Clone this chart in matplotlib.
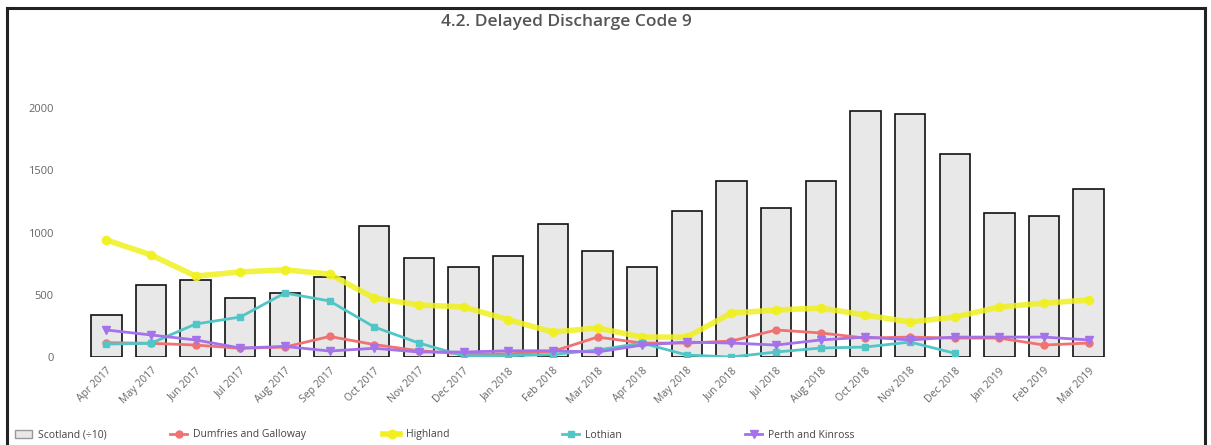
"""
Delayed Discharge Code 9 - barras mensuales con líneas por área
"""

import matplotlib.pyplot as plt
import matplotlib.lines as mlines
import matplotlib.patches as mpatches
import numpy as np

meses = ['Apr 2017', 'May 2017', 'Jun 2017', 'Jul 2017', 'Aug 2017', 'Sep 2017',
         'Oct 2017', 'Nov 2017', 'Dec 2017', 'Jan 2018', 'Feb 2018', 'Mar 2018',
         'Apr 2018', 'May 2018', 'Jun 2018', 'Jul 2018', 'Aug 2018', 'Oct 2018',
         'Nov 2018', 'Dec 2018', 'Jan 2019', 'Feb 2019', 'Mar 2019']

scotland = [340, 578, 615, 474, 514, 642, 1050, 795, 723, 811, 1070, 851,
            723, 1170, 1410, 1196, 1410, 1975, 1951, 1630, 1156, 1132, 1349]
dumfries = [115, 110, 96, 70, 80, 165, 100, 50, 25, 25, 45, 160,
            112, 112, 128, 217, 193, 152, 160, 152, 152, 96, 112]
highland = [940, 820, 650, 683, 700, 666, 474, 418, 402, 300, 200, 233,
            160, 160, 353, 377, 393, 337, 281, 321, 401, 433, 458]
lothian = [104, 110, 265, 321, 514, 450, 241, 112, 10, 10, 20, 56,
           112, 16, 0, 40, 72, 80, 120, 30, np.nan, np.nan, np.nan]
perth = [217, 177, 137, 72, 85, 48, 70, 40, 40, 50, 50, 40,
         96, 120, 112, 96, 137, 160, 137, 160, 160, 160, 137]

etiquetas = ['Scotland (÷10)', 'Dumfries and Galloway', 'Highland', 'Lothian',
             'Perth and Kinross']

plt.rcParams['font.family'] = ['Open Sans', 'DejaVu Sans']

W, H = 1211, 445
fig = plt.figure(figsize=(W / 100, H / 100), dpi=100)

# marco exterior
for xs, ys in [((7 / W, 7 / W), (0, 1 - 8 / H)),
               ((7 / W, 1205 / W), (1 - 8 / H, 1 - 8 / H)),
               ((1205 / W, 1205 / W), (0, 1 - 8 / H))]:
    fig.add_artist(mlines.Line2D(xs, ys, color='#222222', lw=2.2,
                                 transform=fig.transFigure))

ax = fig.add_axes([84 / W, (H - 357) / H, (1111 - 84) / W, (357 - 108) / H])
x = np.arange(len(meses))

ax.bar(x, scotland, width=0.68, color='#e8e8e8', edgecolor='#111111',
       linewidth=1.2, zorder=1)

ax.plot(x, highland, color='#f0f020', lw=4, marker='o', markersize=6,
        alpha=0.85, zorder=3)
ax.plot(x, dumfries, color='#f07272', lw=2, marker='o', markersize=5, zorder=4)
ax.plot(x, lothian, color='#52c6c6', lw=2, marker='s', markersize=5, zorder=4)
ax.plot(x, perth, color='#a472ea', lw=2, marker='v', markersize=6, zorder=5)

ax.set_xlim(-0.5, len(meses) - 0.5)
ax.set_ylim(0, 2000)
ax.set_yticks([0, 500, 1000, 1500, 2000])
ax.set_yticklabels(['0', '500', '1000', '1500', '2000'], fontsize=8, color='#666666')
ax.set_xticks(x)
ax.set_xticklabels(meses, rotation=45, ha='right', rotation_mode='anchor',
                   fontsize=7.5, color='#666666')
ax.tick_params(axis='both', length=0)
ax.tick_params(axis='y', pad=22)
ax.tick_params(axis='x', pad=6)
for s in ax.spines.values():
    s.set_visible(False)

fig.text(566 / W, 1 - 22 / H, '4.2. Delayed Discharge Code 9', ha='center',
         va='center', fontsize=12.5, fontweight='semibold', color='#555555')

# leyenda manual
handles = [
    mpatches.Patch(facecolor='#e8e8e8', edgecolor='#999999'),
    mlines.Line2D([], [], color='#f07272', lw=2, marker='o', markersize=5),
    mlines.Line2D([], [], color='#f0f020', lw=4, marker='o', markersize=6),
    mlines.Line2D([], [], color='#52c6c6', lw=2, marker='s', markersize=5),
    mlines.Line2D([], [], color='#a472ea', lw=2, marker='v', markersize=6),
]
pos_x = [10, 165, 378, 557, 740]
for h, lab, px in zip(handles, etiquetas, pos_x):
    leg = fig.legend([h], [lab], loc='center left',
                     bbox_to_anchor=(px / W, 1 - 435 / H), frameon=False,
                     fontsize=7.5, handlelength=1.6, handletextpad=0.6,
                     borderpad=0, labelcolor='#444444')

fig.savefig('out.png', dpi=100)
